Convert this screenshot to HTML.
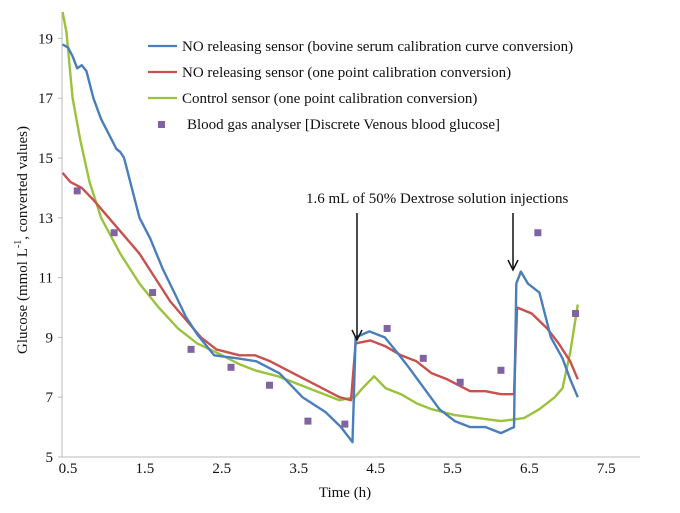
<!DOCTYPE html>
<html><head><meta charset="utf-8"><style>
body{margin:0;background:#fff;}
svg{display:block;font-family:"Liberation Serif",serif;}
</style></head><body>
<svg id="chart" width="680" height="513" viewBox="0 0 680 513"></svg>
<script>
const xTicks=[0.5,1.5,2.5,3.5,4.5,5.5,6.5,7.5];
const yTicks=[5,7,9,11,13,15,17,19];
const blueT=[0.43,0.5,0.56,0.62,0.68,0.74,0.83,0.93,1.03,1.13,1.18,1.23,1.33,1.43,1.57,1.73,1.9,2.03,2.18,2.4,2.7,2.95,3.25,3.55,3.85,4.05,4.2,4.24,4.42,4.62,4.78,4.93,5.13,5.33,5.53,5.73,5.93,6.13,6.3,6.33,6.39,6.48,6.63,6.78,6.93,7.03,7.13];
const blueV=[18.8,18.7,18.4,18.0,18.1,17.9,17.0,16.3,15.8,15.3,15.2,15.0,14.0,13.0,12.3,11.3,10.4,9.7,9.1,8.4,8.3,8.2,7.8,7.0,6.5,6.0,5.5,9.0,9.2,9.0,8.5,8.0,7.3,6.6,6.2,6.0,6.0,5.8,6.0,10.8,11.2,10.8,10.5,9.0,8.3,7.6,7.0];
const redT=[0.43,0.53,0.68,0.83,1.03,1.23,1.43,1.63,1.83,2.03,2.23,2.43,2.73,2.93,3.13,3.43,3.73,4.03,4.18,4.24,4.43,4.63,4.83,5.03,5.23,5.43,5.73,5.93,6.13,6.3,6.34,6.53,6.73,6.88,7.03,7.13];
const redV=[14.5,14.2,14.0,13.6,13.0,12.4,11.8,11.0,10.2,9.6,9.0,8.6,8.4,8.4,8.2,7.8,7.4,7.0,6.9,8.8,8.9,8.7,8.4,8.2,7.8,7.6,7.2,7.2,7.1,7.1,10.0,9.8,9.3,8.8,8.2,7.6];
const greenT=[0.43,0.48,0.56,0.66,0.78,0.93,1.18,1.43,1.68,1.93,2.18,2.43,2.73,2.93,3.23,3.53,3.83,4.03,4.23,4.33,4.48,4.63,4.83,5.03,5.23,5.53,5.83,6.13,6.43,6.63,6.83,6.93,7.03,7.13];
const greenV=[20.5,19.2,17.0,15.6,14.2,13.0,11.8,10.8,10.0,9.3,8.8,8.5,8.1,7.9,7.7,7.4,7.1,6.9,7.0,7.3,7.7,7.3,7.1,6.8,6.6,6.4,6.3,6.2,6.3,6.6,7.0,7.3,8.5,10.1];
const bgaT=[0.62,1.1,1.6,2.1,2.62,3.12,3.62,4.1,4.65,5.12,5.6,6.13,6.61,7.1];
const bgaV=[13.9,12.5,10.5,8.6,8.0,7.4,6.2,6.1,9.3,8.3,7.5,7.9,12.5,9.8];

const NS="http://www.w3.org/2000/svg";
const svg=document.getElementById('chart');
const X0=68,XS=76.9,Y0=457,YS=29.9,TOP=12;
const xs=t=>X0+(t-0.5)*XS;
const ys=v=>Math.max(TOP,Y0-(v-5)*YS);
function mk(tag,attrs,parent){const e=document.createElementNS(NS,tag);for(const k in attrs)e.setAttribute(k,attrs[k]);(parent||svg).appendChild(e);return e;}

let ax=mk('line',{x1:62,y1:TOP,x2:62,y2:Y0,stroke:'#bbb','stroke-width':1});


let bx=mk('line',{x1:62,y1:Y0,x2:640,y2:Y0,stroke:'#bbb','stroke-width':1});



xTicks.forEach(t=>{
  const tx=mk('text',{x:xs(t),y:473,'text-anchor':'middle','font-size':15,fill:'#111'});
  tx.textContent=t.toFixed(1);
  
  
});
yTicks.forEach(v=>{
  const ty=mk('text',{x:53,y:ys(v)+5,'text-anchor':'end','font-size':15,fill:'#111'});
  ty.textContent=v;
  
  
  const tk=mk('line',{x1:58,y1:ys(v),x2:62,y2:ys(v),stroke:'#bbb'});
  
  
});

const xt=mk('text',{x:345,y:497,'text-anchor':'middle','font-size':15,fill:'#111'});
xt.textContent='Time (h)';


const yt=mk('text',{x:0,y:0,'text-anchor':'middle','font-size':15,fill:'#111',transform:'translate(27,240) rotate(-90)'});
yt.innerHTML='Glucose (mmol L<tspan dy="-6" font-size="10">-1</tspan><tspan dy="6">, converted values)</tspan>';



function series(T,V,color,name){
  const d=T.map((t,i)=>(i?'L':'M')+xs(t).toFixed(1)+','+ys(V[i]).toFixed(1)).join('');
  const p=mk('path',{d:d,fill:'none',stroke:color,'stroke-width':2.4,'stroke-linejoin':'round'});
  
  
}
series(greenT,greenV,'#9bc23c','control-sensor-line');
series(redT,redV,'#c8504d','no-sensor-one-point-line');
series(blueT,blueV,'#4a7ebb','no-sensor-bovine-line');

bgaT.forEach((t,i)=>{
  const r=mk('rect',{x:xs(t)-3.5,y:ys(bgaV[i])-3.5,width:7,height:7,fill:'#8064a2'});
  
  
});

const legend=[['line','#4a7ebb','NO releasing sensor (bovine serum calibration curve conversion)'],
['line','#c8504d','NO releasing sensor (one point calibration conversion)'],
['line','#9bc23c','Control sensor (one point calibration conversion)'],
['sq','#8064a2','Blood gas analyser [Discrete Venous blood glucose]']];
legend.forEach((l,i)=>{
  const y=46+i*26;
  const g=mk('g',{});
  
  
  if(l[0]==='line')mk('line',{x1:148,y1:y,x2:177,y2:y,stroke:l[1],'stroke-width':2.2},g);
  else mk('rect',{x:158,y:y-3,width:7,height:7,fill:l[1]},g);
  const tx=mk('text',{x:l[0]==='line'?182:187,y:y+5,'font-size':15,fill:'#111'},g);
  tx.textContent=l[2];
});

const an=mk('text',{x:306,y:203,'font-size':15,fill:'#111'});
an.textContent='1.6 mL of 50% Dextrose solution injections';


[[357,213,340],[513,213,270]].forEach(a=>{
  const g=mk('g',{});
  
  
  mk('line',{x1:a[0],y1:a[1],x2:a[0],y2:a[2]-2,stroke:'#111','stroke-width':1.5},g);
  mk('path',{d:`M${a[0]-5},${a[2]-10}L${a[0]},${a[2]}L${a[0]+5},${a[2]-10}`,fill:'none',stroke:'#111','stroke-width':1.5},g);
});
</script>
</body></html>
